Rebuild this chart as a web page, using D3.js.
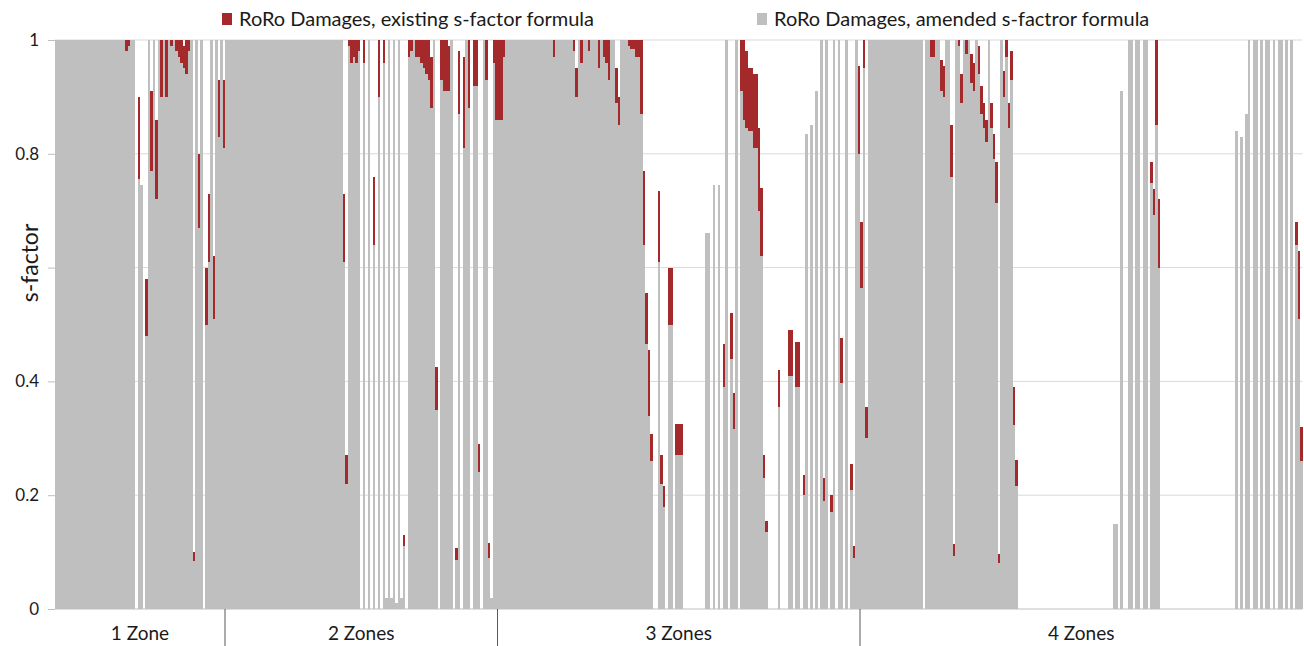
<!DOCTYPE html>
<html>
<head>
<meta charset="utf-8">
<script src="https://cdn.jsdelivr.net/npm/d3@7"></script>
<style>
  body { margin: 0; background: #fff; }
  text { font-family: Lato, "Open Sans", sans-serif; fill: #1a1a1a; }
</style>
</head>
<body>
<div id="chart"></div>
<script>
// categories (groups on the x axis) and y ticks
const zoneLabels = ["1 Zone", "2 Zones", "3 Zones", "4 Zones"];
const yTicks = [0, 0.2, 0.4, 0.6, 0.8, 1];
const seriesNames = ["RoRo Damages, existing s-factor formula", "RoRo Damages, amended s-factror formula"];

// s-factor per damage case, amended formula
const zone1Amended = [1,1,1,1,1,1,1,1,1,1,
  1,1,1,1,1,1,1,1,1,1,
  1,1,1,1,1,1,1,1,.98,.99,
  1,1,0,.755,.745,0,.48,1,.77,1,
  .72,1,.9,1,.9,1,.99,1,.98,.97,
  .96,.95,.94,.98,1,.085,1,.67,1,0,
  .5,.61,1,.51,1,.83,1,.81];
const zone2Amended = [1,1,1,1,1,1,1,1,1,1,
  1,1,1,1,1,1,1,1,1,1,
  1,1,1,1,1,1,1,1,1,1,
  1,1,1,1,1,1,1,1,1,1,
  1,1,1,1,1,1,1,.61,.22,.99,
  .96,.97,.96,.98,0,.96,0,1,0,.64,
  0,.9,0,.96,.02,1,.02,1,.01,1,
  .02,.11,0,.97,.98,1,.97,.97,.96,.95,
  .94,.93,.88,1,.35,0,.93,.91,.91,.91,
  1,0,.086,.87,0,.81,1,.88,0,.92,
  .92,.24,0,1,.93,.09,.02,.96,.86];
const zone3Amended = [.86,.86,.97,1,1,1,1,1,1,1,
  1,1,1,1,1,1,1,1,1,1,
  1,1,.97,1,1,1,1,1,1,1,
  .98,.9,1,.96,1,1,.98,1,1,1,
  .95,1,.97,.96,.93,1,1,.89,.85,1,
  1,1,.99,.985,.985,.97,.97,.87,.64,.465,
  .34,.26,0,0,.61,.22,.18,0,.5,.5,
  0,.27,.27,.27,0,0,0,0,0,0,
  0,0,0,.66,.66,0,.745,0,.745,0,
  .39,1,0,.44,.317,1,0,.91,.86,.845,
  .84,.84,.81,.81,.7,.62,.23,.135,0,0,
  0,0,.355,0,0,0,.41,.41,0,.39,
  .39,0,.2,.835,0,.85,0,.91,0,1,
  .19,1,0,.17,1,0,1,.397,0,1,
  0,.21,.09,1,.8];
const zone4Amended = [.565,.95,.3,1,1,1,1,1,1,1,
  1,1,1,1,1,1,1,1,1,1,
  1,1,1,1,1,0,1,1,.97,.97,
  1,1,.91,.9,1,1,.76,.093,1,.99,
  .89,1,.975,1,.924,.91,1,.94,.87,.845,
  .82,1,.845,.79,.714,.08,1,.9,.97,.845,
  .93,.324,.217,0,0,0,0,0,0,0,
  0,0,0,0,0,0,0,0,0,0,
  0,0,0,0,0,0,0,0,0,0,
  0,0,0,0,0,0,0,0,0,0,
  0,.15,.15,0,.91,0,0,1,1,0,
  1,1,0,1,1,0,.748,.693,.85,.6,
  0,0,0,0,0,0,0,0,0,0,
  0,0,0,0,0,0,0,0,0,0,
  0,0,0,0,0,0,0,0,0,0,
  .84,0,.83,0,.87,1,0,1,1,0,
  1,0,1,1,0,1,0,1,1,0,
  1,0,1,0,.64,.51,.26];

// s-factor per damage case, existing formula
const zone1Existing = [1,1,1,1,1,1,1,1,1,1,
  1,1,1,1,1,1,1,1,1,1,
  1,1,1,1,1,1,1,1,1,1,
  1,1,0,.9,.745,0,.58,1,.91,1,
  .86,1,1,1,1,1,1,1,1,1,
  1,.99,1,1,1,.1,1,.8,1,0,
  .6,.73,1,.62,1,.93,1,.93];
const zone2Existing = [1,1,1,1,1,1,1,1,1,1,
  1,1,1,1,1,1,1,1,1,1,
  1,1,1,1,1,1,1,1,1,1,
  1,1,1,1,1,1,1,1,1,1,
  1,1,1,1,1,1,1,.73,.27,1,
  1,1,1,1,0,1,0,1,0,.76,
  0,1,0,1,.02,1,.02,1,.01,1,
  .02,.13,0,1,1,1,1,1,1,1,
  1,1,.97,1,.425,0,1,1,1,.99,
  1,0,.107,.98,0,.97,1,1,0,1,
  1,.29,0,1,1,.116,.02,1,1];
const zone3Existing = [1,1,1,1,1,1,1,1,1,1,
  1,1,1,1,1,1,1,1,1,1,
  1,1,1,1,1,1,1,1,1,1,
  1,.95,1,1,1,1,1,1,1,1,
  1,1,1,1,1,1,1,.95,.9,1,
  1,1,1,1,1,1,1,1,.77,.555,
  .455,.307,0,0,.735,.27,.217,0,.6,.6,
  0,.325,.325,.325,0,0,0,0,0,0,
  0,0,0,.66,.66,0,.745,0,.745,0,
  .465,1,0,.52,.38,1,0,1,1,.98,
  .95,.95,.94,.94,.845,.74,.27,.155,0,0,
  0,0,.42,0,0,0,.49,.49,0,.47,
  .47,0,.235,.835,0,.85,0,.91,0,1,
  .23,1,0,.2,1,0,1,.476,0,1,
  0,.255,.11,1,.955];
const zone4Existing = [.68,1,.355,1,1,1,1,1,1,1,
  1,1,1,1,1,1,1,1,1,1,
  1,1,1,1,1,0,1,1,1,1,
  1,1,.965,.955,1,1,.85,.114,1,1,
  .94,1,1,1,.976,.96,1,.99,.92,.89,
  .86,1,.89,.834,.786,.097,1,.945,1,.89,
  .98,.39,.262,0,0,0,0,0,0,0,
  0,0,0,0,0,0,0,0,0,0,
  0,0,0,0,0,0,0,0,0,0,
  0,0,0,0,0,0,0,0,0,0,
  0,.15,.15,0,.91,0,0,1,1,0,
  1,1,0,1,1,0,.786,.738,1,.72,
  0,0,0,0,0,0,0,0,0,0,
  0,0,0,0,0,0,0,0,0,0,
  0,0,0,0,0,0,0,0,0,0,
  .84,0,.83,0,.87,1,0,1,1,0,
  1,0,1,1,0,1,0,1,1,0,
  1,0,1,0,.68,.63,.32];

const zones = [
  {label: zoneLabels[0], amended: zone1Amended, existing: zone1Existing},
  {label: zoneLabels[1], amended: zone2Amended, existing: zone2Existing},
  {label: zoneLabels[2], amended: zone3Amended, existing: zone3Existing},
  {label: zoneLabels[3], amended: zone4Amended, existing: zone4Existing}
];

// one row per damage case
const data = [];
zones.forEach(function(z, zi) {
  z.start = data.length;
  z.amended.forEach(function(a, i) {
    data.push({id: data.length, zone: zi, amended: a, existing: z.existing[i]});
  });
  z.end = data.length;
});

const width = 1304, height = 646;
const red = "#a3292b", grey = "#bfbfbf";

const svg = d3.select("#chart").append("svg")
  .attr("width", width)
  .attr("height", height);

const x = d3.scaleBand()
  .domain(data.map(d => d.id))
  .range([55, 1302.5])
  .padding(0);

const y = d3.scaleLinear()
  .domain([0, 1])
  .range([609, 40]);

// gridlines
svg.append("g")
  .selectAll("line")
  .data(yTicks.slice(1))
  .join("line")
    .attr("x1", 55)
    .attr("x2", 1302.5)
    .attr("y1", d => y(d))
    .attr("y2", d => y(d))
    .style("stroke", "#d9d9d9")
    .style("stroke-width", 1);

// bars: grey for the amended value, red for the part the existing formula adds on top
const bw = x.bandwidth();
const bars = svg.append("g").attr("shape-rendering", "crispEdges");

bars.selectAll(".existing")
  .data(data.filter(d => d.existing > d.amended))
  .join("rect")
    .attr("class", "existing")
    .attr("x", d => x(d.id))
    .attr("y", d => y(d.existing))
    .attr("width", bw)
    .attr("height", d => y(d.amended) - y(d.existing))
    .style("fill", red);

bars.selectAll(".amended")
  .data(data.filter(d => d.amended > 0))
  .join("rect")
    .attr("class", "amended")
    .attr("x", d => x(d.id))
    .attr("y", d => y(d.amended))
    .attr("width", bw)
    .attr("height", d => y(0) - y(d.amended))
    .style("fill", grey);

// y axis (the 0.6 label sits under the axis title in the original)
const yAxis = svg.append("g")
  .attr("transform", "translate(55,0)")
  .call(d3.axisLeft(y).tickValues(yTicks)
    .tickFormat(d => d === 0.6 ? "" : String(d))
    .tickSize(7).tickPadding(9));
yAxis.select(".domain").remove();
yAxis.selectAll(".tick line").style("stroke", "#bfbfbf");
yAxis.selectAll("text")
  .style("font-size", "17px")
  .style("font-family", "Lato, 'Open Sans', sans-serif")
  .style("fill", "#1a1a1a");

svg.append("text")
  .attr("transform", "translate(38,263) rotate(-90)")
  .attr("text-anchor", "middle")
  .style("font-size", "23px")
  .text("s-factor");

// x axis line and zone separators
svg.append("line")
  .attr("x1", 55).attr("x2", 1302.5)
  .attr("y1", y(0)).attr("y2", y(0))
  .style("stroke", "#bfbfbf")
  .style("stroke-width", 1);

svg.append("g")
  .selectAll("line")
  .data(zones.slice(1))
  .join("line")
    .attr("x1", z => x(z.start))
    .attr("x2", z => x(z.start))
    .attr("y1", y(0))
    .attr("y2", 646)
    .style("stroke", "#595959")
    .style("stroke-width", 1);

svg.append("g")
  .selectAll("text")
  .data(zones)
  .join("text")
    .attr("x", z => (x(z.start) + x(z.end - 1) + bw) / 2)
    .attr("y", 640)
    .attr("text-anchor", "middle")
    .style("font-size", "19px")
    .text(z => z.label);

// legend
const legend = [
  {name: seriesNames[0], color: red, x: 222},
  {name: seriesNames[1], color: grey, x: 757}
];
const lg = svg.append("g").selectAll("g")
  .data(legend)
  .join("g")
    .attr("transform", d => `translate(${d.x},0)`);
lg.append("rect")
  .attr("x", 0).attr("y", 13)
  .attr("width", 10).attr("height", 12)
  .style("fill", d => d.color);
lg.append("text")
  .attr("x", 17).attr("y", 26)
  .style("font-size", "20px")
  .text(d => d.name);
</script>
</body>
</html>
